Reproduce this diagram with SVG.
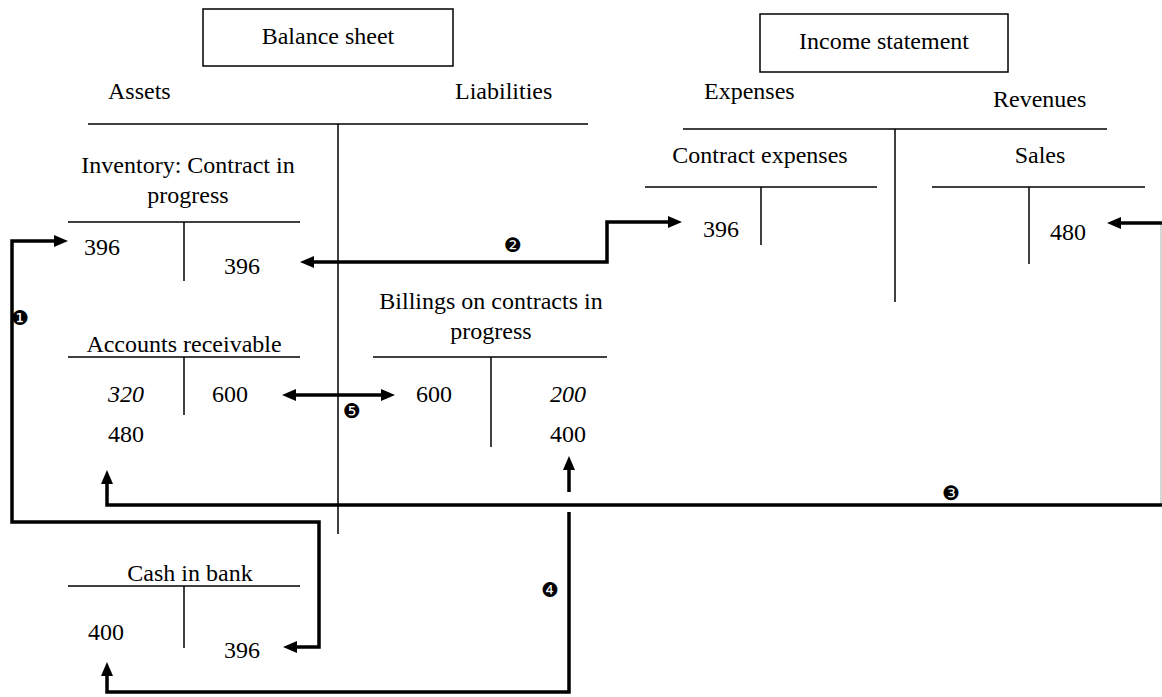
<svg xmlns="http://www.w3.org/2000/svg" width="1162" height="697" viewBox="0 0 1162 697">
  <style>
    text { font-family: "Liberation Serif", "DejaVu Serif", serif; font-size: 24px; fill: #000; }
    .it { font-style: italic; }
    .num { font-family: "DejaVu Sans", sans-serif; font-size: 20px; }
    .thin { stroke: #000; stroke-width: 1.5; fill: none; }
    .box { stroke: #000; stroke-width: 1.5; fill: #fff; }
    .flow { stroke: #000; stroke-width: 3.5; fill: none; }
    .edge { stroke: #bbb; stroke-width: 1.2; fill: none; }
  </style>
  <defs>
    <marker id="head" viewBox="0 0 14 12" refX="2" refY="6" markerWidth="14" markerHeight="12" markerUnits="userSpaceOnUse" orient="auto-start-reverse">
      <path d="M0,0 L14,6 L0,12 z" fill="#000"/>
    </marker>
  </defs>

  <rect width="1162" height="697" fill="#fff"/>

  <!-- Balance sheet -->
  <g id="balance-sheet">
    <rect class="box" x="203" y="9" width="250" height="57"/>
    <text x="328" y="44" text-anchor="middle">Balance sheet</text>
    <text x="108" y="99">Assets</text>
    <text x="455" y="99">Liabilities</text>
    <line class="thin" x1="88" y1="124" x2="588" y2="124"/>
    <line class="thin" x1="338" y1="124" x2="338" y2="534"/>
  </g>

  <!-- Income statement -->
  <g id="income-statement">
    <rect class="box" x="760" y="14" width="248" height="58"/>
    <text x="884" y="49" text-anchor="middle">Income statement</text>
    <text x="704" y="99">Expenses</text>
    <text x="993" y="107">Revenues</text>
    <line class="thin" x1="683" y1="129" x2="1107" y2="129"/>
    <line class="thin" x1="895" y1="129" x2="895" y2="302"/>
  </g>

  <!-- Inventory: Contract in progress -->
  <g id="inventory">
    <text x="188" y="173" text-anchor="middle">Inventory: Contract in</text>
    <text x="188" y="203" text-anchor="middle">progress</text>
    <line class="thin" x1="68" y1="222" x2="300" y2="222"/>
    <line class="thin" x1="184" y1="222" x2="184" y2="281"/>
    <text x="84" y="255">396</text>
    <text x="224" y="274">396</text>
  </g>

  <!-- Contract expenses -->
  <g id="contract-expenses">
    <text x="760" y="163" text-anchor="middle">Contract expenses</text>
    <line class="thin" x1="645" y1="187" x2="877" y2="187"/>
    <line class="thin" x1="761" y1="187" x2="761" y2="245"/>
    <text x="703" y="237">396</text>
  </g>

  <!-- Sales -->
  <g id="sales">
    <text x="1040" y="163" text-anchor="middle">Sales</text>
    <line class="thin" x1="932" y1="187" x2="1145" y2="187"/>
    <line class="thin" x1="1029" y1="187" x2="1029" y2="264"/>
    <text x="1050" y="240">480</text>
  </g>

  <!-- Accounts receivable -->
  <g id="accounts-receivable">
    <text x="184" y="352" text-anchor="middle">Accounts receivable</text>
    <line class="thin" x1="68" y1="357" x2="300" y2="357"/>
    <line class="thin" x1="184" y1="357" x2="184" y2="415"/>
    <text class="it" x="108" y="402">320</text>
    <text x="212" y="402">600</text>
    <text x="108" y="442">480</text>
  </g>

  <!-- Billings on contracts in progress -->
  <g id="billings">
    <text x="491" y="309" text-anchor="middle">Billings on contracts in</text>
    <text x="491" y="339" text-anchor="middle">progress</text>
    <line class="thin" x1="373" y1="357" x2="607" y2="357"/>
    <line class="thin" x1="491" y1="357" x2="491" y2="447"/>
    <text x="416" y="402">600</text>
    <text class="it" x="550" y="402">200</text>
    <text x="550" y="442">400</text>
  </g>

  <!-- Cash in bank -->
  <g id="cash-in-bank">
    <text x="190" y="581" text-anchor="middle">Cash in bank</text>
    <line class="thin" x1="68" y1="586" x2="300" y2="586"/>
    <line class="thin" x1="184" y1="586" x2="184" y2="648"/>
    <text x="88" y="640">400</text>
    <text x="224" y="658">396</text>
  </g>

  <!-- Posting arrows -->
  <g id="connectors">
    <!-- 1: cash paid into contract in progress -->
    <path class="flow" d="M295,647 L319,647 L319,522 L12,522 L12,241 L56,241" marker-start="url(#head)" marker-end="url(#head)"/>
    <!-- 2: cost transferred to contract expenses -->
    <path class="flow" d="M312,262 L607,262 L607,222 L670,222" marker-start="url(#head)" marker-end="url(#head)"/>
    <!-- 3: sales recognised in receivables -->
    <line class="edge" x1="1161" y1="223" x2="1161" y2="505"/>
    <path class="flow" d="M1162,223 L1119,223" marker-end="url(#head)"/>
    <path class="flow" d="M1162,505 L107,505 L107,482" marker-end="url(#head)"/>
    <!-- 4: billings invoiced and collected -->
    <path class="flow" d="M569,492 L569,468" marker-end="url(#head)"/>
    <path class="flow" d="M569,512 L569,692 L107,692 L107,674" marker-end="url(#head)"/>
    <!-- 5: offset receivable against billings -->
    <path class="flow" d="M294,395 L383,395" marker-start="url(#head)" marker-end="url(#head)"/>

    <text class="num" x="20" y="325" text-anchor="middle">❶</text>
    <text class="num" x="513" y="252" text-anchor="middle">❷</text>
    <text class="num" x="951" y="500" text-anchor="middle">❸</text>
    <text class="num" x="550" y="597" text-anchor="middle">❹</text>
    <text class="num" x="352" y="418" text-anchor="middle">❺</text>
  </g>
</svg>
